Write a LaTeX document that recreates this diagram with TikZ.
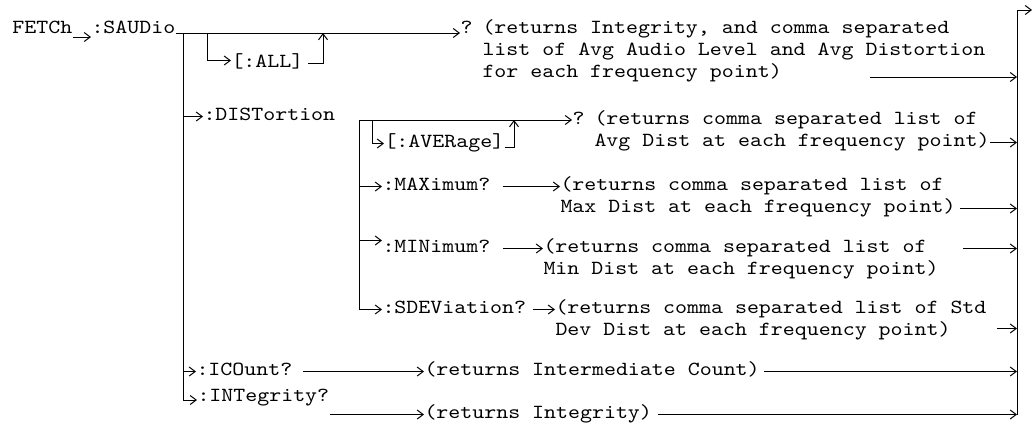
\documentclass[tikz,border=0pt]{standalone}
\usepackage{fontspec}
\newfontfamily\cmdfont{lmmono10-regular.otf}[FakeStretch=1.14]
\usetikzlibrary{arrows.meta,positioning}

\begin{document}
\begin{tikzpicture}[
    x=1pt, y=-1pt,
    line width=1pt,
    cmd/.style={font=\fontsize{20}{22}\selectfont\cmdfont, inner sep=0pt, anchor=base west, text height=11pt, text depth=4pt},
    arrow/.style={-{Straight Barb[length=6pt,width=9pt]}}
]
\useasboundingbox (0,0) rectangle (1034,426);
\node[cmd] (fetch) at (12,33) {FETCh};
\node[cmd] (saudio) at (91,33) {:SAUDio};
\node[cmd] (all) at (231,67) {[:ALL]};
\node[cmd] (q1) at (460,33) {?};
\node[cmd] (r1a) at (482,33) {(returns Integrity, and comma separated};
\node[cmd] (r1b) at ([yshift=-22pt]r1a.base west) {list of Avg Audio Level and Avg Distortion};
\node[cmd] (r1c) at ([yshift=-22pt]r1b.base west) {for each frequency point)};
\node[cmd] (dist) at (203,120) {:DISTortion};
\node[cmd] (ave) at (384,147) {[:AVERage]};
\node[cmd] (q2) at (572,124) {?};
\node[cmd] (r2a) at (594,124) {(returns comma separated list of};
\node[cmd] (r2b) at ([yshift=-22pt]r2a.base west) {Avg Dist at each frequency point)};
\node[cmd] (max) at (382,190) {:MAXimum?};
\node[cmd] (r3a) at (560,190) {(returns comma separated list of};
\node[cmd] (r3b) at ([yshift=-22pt]r3a.base west) {Max Dist at each frequency point)};
\node[cmd] (min) at (382,252) {:MINimum?};
\node[cmd] (r4a) at (543,252) {(returns comma separated list of};
\node[cmd] (r4b) at ([yshift=-22pt]r4a.base west) {Min Dist at each frequency point)};
\node[cmd] (sdev) at (382,313) {:SDEViation?};
\node[cmd] (r5a) at (555,313) {(returns comma separated list of Std};
\node[cmd] (r5b) at ([yshift=-22pt]r5a.base west) {Dev Dist at each frequency point)};
\node[cmd] (icount) at (196,375) {:ICOunt?};
\node[cmd] (r6) at (424,375) {(returns Intermediate Count)};
\node[cmd] (integ) at (197,401) {:INTegrity?};
\node[cmd] (r7) at (424,418) {(returns Integrity)};

\coordinate (trunk) at (183,33);
\coordinate (allj) at (207,33);
\coordinate (allr) at (323,33);
\coordinate (allin) at ([yshift=3pt]all.west);
\coordinate (distj) at (359,120);
\coordinate (avej) at (372,120);
\coordinate (aver) at (514,120);
\coordinate (rail) at (1017,10);
\coordinate (exit) at (1032,10);
\coordinate (s1) at ([xshift=88pt]r1c.base east);
\coordinate (s4) at ([xshift=36pt]r4a.east);
\coordinate (s5) at ([xshift=46pt,yshift=3pt]r5b.east);

\draw[arrow] ([yshift=-4pt]fetch.base east) -- ([yshift=-4pt]saudio.base west);
\draw[arrow] (saudio.base east) -- (q1.base west);
\draw[arrow] (trunk) |- ([yshift=1pt]integ.base west);
\draw[arrow] (allj) |- (allin);
\draw[arrow] ([xshift=4pt]all.east) -| (allr);
\draw[arrow] (trunk |- dist.west) -- (dist.west);
\draw[arrow] (distj) -- (distj -| q2.west);
\draw[arrow] (distj) |- (sdev.west);
\draw[arrow] (avej) |- (ave.west);
\draw[arrow] (ave.base east) -| (aver);
\draw[arrow] (distj |- max.west) -- (max.west);
\draw[arrow] ([xshift=12pt]max.east) -- (r3a.west);
\draw[arrow] (distj |- min.north west) -- (min.north west);
\draw[arrow] ([xshift=12pt]min.east) -- (r4a.west);
\draw[arrow] ([xshift=6pt]sdev.east) -- (r5a.west);
\draw[arrow] (trunk |- icount.west) -- (icount.west);
\draw[arrow] ([xshift=10pt]icount.east) -- (r6.west);
\draw[arrow] (integ.base east |- r7.west) -- (r7.west);

\draw[arrow] (rail |- r7.west) -- (rail) -- (exit);
\draw[arrow] (s1) -- (s1 -| rail);
\draw[arrow] (r2b.east) -- (r2b.east -| rail);
\draw[arrow] ([xshift=4pt]r3b.east) -- (r3b.east -| rail);
\draw[arrow] (s4) -- (s4 -| rail);
\draw[arrow] (s5) -- (s5 -| rail);
\draw[arrow] ([xshift=4pt]r6.east) -- (r6.east -| rail);
\draw[arrow] ([xshift=6pt]r7.east) -- (r7.east -| rail);
\end{tikzpicture}
\end{document}
